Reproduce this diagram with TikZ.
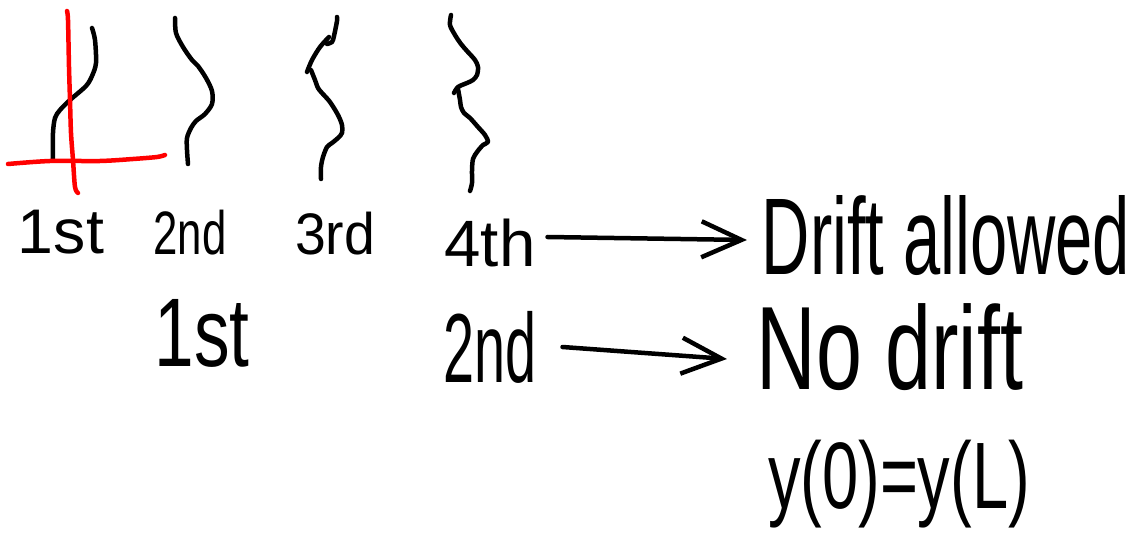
\documentclass[tikz,border=0pt]{standalone}
\usepackage{fontspec}
\setmainfont{Liberation Sans}
\usepackage{graphicx}
\usetikzlibrary{arrows.meta}
\newcommand{\hwtext}[3]{\resizebox*{#1pt}{#2pt}{#3}}
\begin{document}
\begin{tikzpicture}[x=1pt,y=-1pt,
  ink/.style={line width=4.5pt,line cap=round,line join=round,black},
  redink/.style={line width=4.5pt,line cap=round,line join=round,red},
  lbl/.style={inner sep=0pt,outer sep=0pt},
  arr/.style={ink,-{Straight Barb[length=40pt,width=36pt]}}]
\useasboundingbox (0,0) rectangle (1142,534);
\fill[white] (0,0) rectangle (1142,534);

% first curve with red axes
\draw[ink] plot[smooth,tension=0.5] coordinates {(92,28) (95,40) (96,63) (92,76) (86,86) (70,100) (60,110) (55,118) (53,133) (53,160)};
\draw[redink] plot[smooth,tension=0.5] coordinates {(67,11) (68,20) (69,67) (70,100) (71,133) (73,160) (75,187) (78,193)};
\draw[redink] plot[smooth,tension=0.5] coordinates {(8,164) (50,161) (100,161) (133,159) (157,157) (165,155)};

% second curve
\draw[ink] plot[smooth,tension=0.5] coordinates {(175,18) (176,33) (183,47) (192,60) (198,66) (206,78) (212,91) (212,104) (205,114) (196,121) (191,128) (187,138) (187,150) (188,164)};

% third curve
\draw[ink] plot[smooth,tension=0.5] coordinates {(337,17) (337,21) (334,36) (332,42) (327,44)};
\draw[ink] plot[smooth,tension=0.5] coordinates {(329,37) (320,47) (312,60) (307,72)};
\draw[ink] plot[smooth,tension=0.5] coordinates {(311,70) (315,80) (318,88) (322,93) (330,102) (338,115) (342,125) (342,133) (338,138) (332,143) (327,147) (323,157) (321,167) (321,179)};

% fourth curve
\draw[ink] plot[smooth,tension=0.5] coordinates {(451,15) (450,25) (455,35) (461,44) (467,51) (475,60) (478,67) (477,75) (473,80) (467,83) (458,87) (454,93)};
\draw[ink] plot[smooth,tension=0.5] coordinates {(458,89) (460,100) (461,107) (464,113) (470,118) (478,127) (485,135) (488,142) (483,145) (477,152) (473,159) (472,170) (472,183) (470,191)};

% labels
\node[lbl] (n1) at (61,232) {\hwtext{86}{44}{1st}};
\node[lbl] (n2) at (190,233) {\hwtext{73}{45}{2nd}};
\node[lbl] (n3) at (335,234) {\hwtext{80}{43}{3rd}};
\node[lbl] (n4) at (490,243) {\hwtext{91}{48}{4th}};
\node[lbl] (n5) at (202,333) {\hwtext{95}{68}{1st}};
\node[lbl] (n6) at (490,347) {\hwtext{93}{72}{2nd}};
\node[lbl] (n7) at (946,236) {\hwtext{368}{80}{Drift allowed}};
\node[lbl] (n8) at (890,347) {\hwtext{266}{87}{No drift}};
\node[lbl] (n9) at (899,484) {\hwtext{262}{88}{y(0)=y(L)}};

% arrows
\draw[arr] ([xshift=12pt,yshift=6pt]n4.east) -- ([xshift=-15pt,yshift=-4pt]n7.west);
\draw[arr] ([xshift=26pt]n6.east) -- ([xshift=-30pt,yshift=-12pt]n8.west);
\end{tikzpicture}
\end{document}
